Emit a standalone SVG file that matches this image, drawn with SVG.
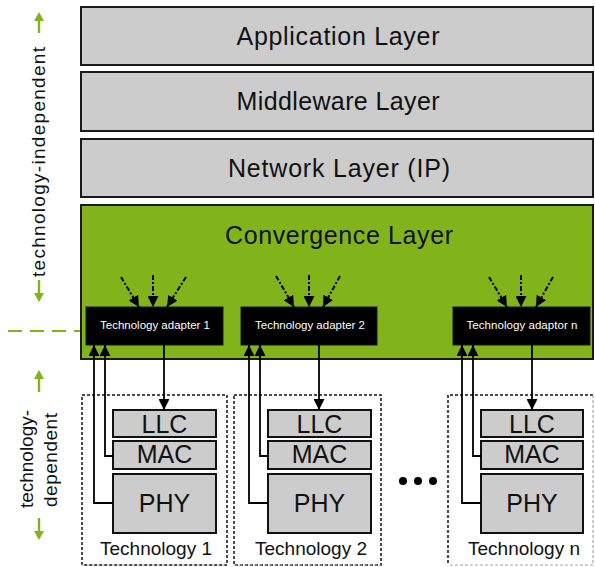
<svg xmlns="http://www.w3.org/2000/svg" width="595" height="567" viewBox="0 0 595 567">
<defs>
<style>
.layer{fill:#cccccc;stroke:#1a1a1a;stroke-width:2}
.conv{fill:#80b41a;stroke:#1a1a1a;stroke-width:2}
.adapter{fill:#000;stroke:#1a1a1a;stroke-width:1}
.sub{fill:#cccccc;stroke:#111;stroke-width:2}
.tech{fill:none;stroke:#111;stroke-width:1.5;stroke-dasharray:3,2}
.techg{fill:none;stroke:#aaa;stroke-width:1.2;stroke-dasharray:3,2}
.big{font-family:"Liberation Sans",Arial,sans-serif;font-size:25px;fill:#111;text-anchor:middle}
.sl{font-family:"Liberation Sans",Arial,sans-serif;font-size:25px;fill:#111;text-anchor:middle}
.tl{font-family:"Liberation Sans",Arial,sans-serif;font-size:19px;fill:#111;text-anchor:middle}
.at{font-family:"Liberation Sans",Arial,sans-serif;font-size:11.5px;fill:#fff;text-anchor:middle}
.side{font-family:"Liberation Sans",Arial,sans-serif;font-size:19px;fill:#111;text-anchor:middle}
.in{fill:none;stroke:#000;stroke-width:2;stroke-dasharray:5,2,2,2}
.wire{fill:none;stroke:#000;stroke-width:1.8}
.g{fill:#80b41a}
</style>
<marker id="ah" viewBox="0 0 10 10" refX="10" refY="5" markerWidth="11" markerHeight="11" markerUnits="userSpaceOnUse" orient="auto">
<path d="M0,0 L10,5 L0,10 z" fill="#000"/>
</marker>
</defs>

<g id="application-layer">
<rect class="layer" x="81" y="7" width="512" height="58"/>
<text class="big" x="338" y="45" textLength="203" lengthAdjust="spacing">Application Layer</text>
</g>
<g id="middleware-layer">
<rect class="layer" x="81" y="72" width="512" height="59"/>
<text class="big" x="338" y="110" textLength="203" lengthAdjust="spacing">Middleware Layer</text>
</g>
<g id="network-layer">
<rect class="layer" x="81" y="139" width="512" height="58"/>
<text class="big" x="339" y="177" textLength="222" lengthAdjust="spacing">Network Layer (IP)</text>
</g>
<g id="convergence-layer">
<rect class="conv" x="81" y="205" width="512" height="154"/>
<text class="big" x="339" y="244" textLength="228" lengthAdjust="spacing">Convergence Layer</text>
</g>

<g id="adapter-1">
<rect class="adapter" x="86" y="307" width="137" height="38"/>
<text class="at" x="155" y="329" textLength="110" lengthAdjust="spacing">Technology adapter 1</text>
</g>
<g id="adapter-2">
<rect class="adapter" x="241" y="307" width="136" height="38"/>
<text class="at" x="310" y="329" textLength="110" lengthAdjust="spacing">Technology adapter 2</text>
</g>
<g id="adapter-n">
<rect class="adapter" x="453" y="307" width="137" height="38"/>
<text class="at" x="522" y="329" textLength="111" lengthAdjust="spacing">Technology adaptor n</text>
</g>

<g id="technology-1">
<rect class="tech" x="82" y="395" width="145" height="170"/>
<line class="techg" x1="82" y1="565" x2="227" y2="565"/>
<rect class="sub" x="113" y="410" width="103" height="27"/>
<text class="sl" x="164.5" y="433">LLC</text>
<rect class="sub" x="113" y="441" width="103" height="28"/>
<text class="sl" x="164.5" y="463">MAC</text>
<rect class="sub" x="113" y="474" width="103" height="59"/>
<text class="sl" x="164.5" y="512">PHY</text>
<text class="tl" x="156" y="555">Technology 1</text>
</g>
<g id="technology-2">
<rect class="tech" x="234" y="395" width="147" height="170"/>
<line class="techg" x1="234" y1="565" x2="381" y2="565"/>
<rect class="sub" x="268" y="410" width="103" height="27"/>
<text class="sl" x="319.5" y="433">LLC</text>
<rect class="sub" x="268" y="441" width="103" height="28"/>
<text class="sl" x="319.5" y="463">MAC</text>
<rect class="sub" x="268" y="474" width="103" height="59"/>
<text class="sl" x="319.5" y="512">PHY</text>
<text class="tl" x="311" y="555">Technology 2</text>
</g>
<g id="technology-n">
<path class="tech" d="M593 395 H448 V565"/>
<path class="techg" d="M593 395 V565 H448"/>
<rect class="sub" x="481" y="410" width="102" height="27"/>
<text class="sl" x="532" y="433">LLC</text>
<rect class="sub" x="481" y="441" width="102" height="28"/>
<text class="sl" x="532" y="463">MAC</text>
<rect class="sub" x="481" y="474" width="102" height="59"/>
<text class="sl" x="532" y="512">PHY</text>
<text class="tl" x="524" y="555">Technology n</text>
</g>

<g id="ellipsis">
<circle cx="403" cy="481" r="4" fill="#000"/>
<circle cx="418" cy="481" r="4" fill="#000"/>
<circle cx="433" cy="481" r="4" fill="#000"/>
</g>

<g id="side-labels">
<text class="side" transform="translate(45,162) rotate(-90)" textLength="230" lengthAdjust="spacing">technology-independent</text>
<text class="side" transform="translate(33,459) rotate(-90)" textLength="98" lengthAdjust="spacing">technology-</text>
<text class="side" transform="translate(57,460) rotate(-90)" textLength="94" lengthAdjust="spacing">dependent</text>
<path class="g" d="M39 12 L44 21 L40.2 21 L40.2 33 L37.8 33 L37.8 21 L34 21 Z"/>
<path class="g" d="M39 302 L44 293 L40.2 293 L40.2 280 L37.8 280 L37.8 293 L34 293 Z"/>
<path class="g" d="M39 370 L44 379 L40.2 379 L40.2 392 L37.8 392 L37.8 379 L34 379 Z"/>
<path class="g" d="M39 540 L44 531 L40.2 531 L40.2 518 L37.8 518 L37.8 531 L34 531 Z"/>
<line x1="8" y1="331" x2="80" y2="331" stroke="#80b41a" stroke-width="2" stroke-dasharray="14,8"/>
</g>

<g id="connectors">
<line class="in" x1="121" y1="277" x2="139" y2="307" marker-end="url(#ah)"/>
<line class="in" x1="153" y1="275" x2="153" y2="307" marker-end="url(#ah)"/>
<line class="in" x1="186" y1="277" x2="167" y2="307" marker-end="url(#ah)"/>
<line class="in" x1="276" y1="276" x2="294" y2="307" marker-end="url(#ah)"/>
<line class="in" x1="309" y1="275" x2="309" y2="307" marker-end="url(#ah)"/>
<line class="in" x1="340" y1="276" x2="323" y2="307" marker-end="url(#ah)"/>
<line class="in" x1="489" y1="277" x2="507" y2="307" marker-end="url(#ah)"/>
<line class="in" x1="521" y1="275" x2="521" y2="307" marker-end="url(#ah)"/>
<line class="in" x1="553" y1="277" x2="536" y2="307" marker-end="url(#ah)"/>

<path class="wire" d="M113 503 H94 V345" marker-end="url(#ah)"/>
<path class="wire" d="M113 456 H105 V345" marker-end="url(#ah)"/>
<path class="wire" d="M164 345 V410" marker-end="url(#ah)"/>

<path class="wire" d="M268 503 H249 V345" marker-end="url(#ah)"/>
<path class="wire" d="M268 456 H260 V345" marker-end="url(#ah)"/>
<path class="wire" d="M319 345 V410" marker-end="url(#ah)"/>

<path class="wire" d="M481 503 H462 V345" marker-end="url(#ah)"/>
<path class="wire" d="M481 456 H473 V345" marker-end="url(#ah)"/>
<path class="wire" d="M532 345 V410" marker-end="url(#ah)"/>
</g>
</svg>
